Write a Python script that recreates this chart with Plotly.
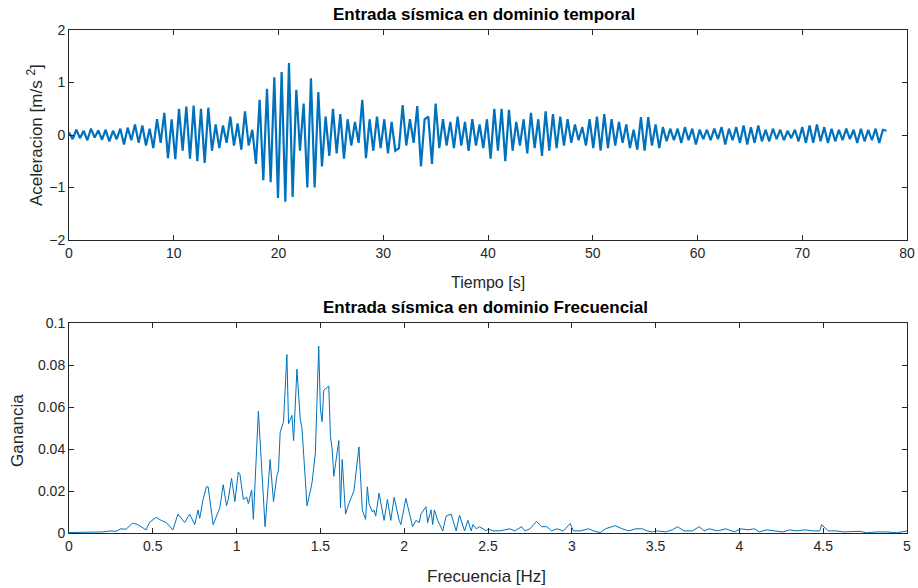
import numpy as np
import plotly.graph_objects as go

# ---------------- Data ----------------
# time-domain record: acceleration sampled every 0.35 s (read from picture)
dt = 0.35
accel = [
    0.05, -0.08, 0.10, -0.06, 0.08, -0.10, 0.12, -0.05, 0.09, -0.09,
    0.10, -0.12, 0.08, -0.08, 0.12, -0.18, 0.14, -0.10, 0.20, -0.15,
    0.18, -0.20, 0.12, -0.25, 0.30, -0.15, 0.42, -0.44, 0.30, -0.46,
    0.50, -0.30, 0.54, -0.45, 0.56, -0.50, 0.50, -0.53, 0.52, -0.30,
    0.20, -0.25, 0.18, -0.15, 0.35, -0.20, 0.22, -0.28, 0.45, -0.20,
    0.10, -0.55, 0.67, -0.86, 0.88, -0.90, 1.10, -1.20, 1.20, -1.27,
    1.37, -1.18, 0.86, -0.30, 0.60, -1.00, 1.08, -1.00, 0.82, -0.60,
    0.35, -0.40, 0.50, -0.35, 0.40, -0.45, 0.30, -0.20, 0.25, -0.15,
    0.67, -0.44, 0.30, -0.30, 0.35, -0.25, 0.30, -0.35, 0.25, -0.30,
    -0.25, 0.57, -0.20, 0.30, -0.15, 0.55, -0.60, 0.30, 0.35, -0.55,
    0.60, -0.25, 0.30, -0.20, 0.25, -0.25, 0.35, -0.20, 0.25, -0.30,
    0.30, -0.20, 0.20, -0.25, 0.30, -0.45, 0.50, -0.30, 0.50, -0.50,
    0.48, -0.30, 0.25, -0.20, 0.30, -0.35, 0.42, -0.25, 0.30, -0.40,
    0.45, -0.30, 0.40, -0.25, 0.35, -0.20, 0.30, -0.15, 0.20, -0.10,
    0.15, -0.20, 0.30, -0.25, 0.35, -0.30, 0.40, -0.25, 0.30, -0.20,
    0.25, -0.15, 0.20, -0.25, 0.10, -0.28, 0.34, -0.30, 0.34, -0.20,
    0.20, -0.25, 0.15, -0.12, 0.12, -0.10, 0.12, -0.15, 0.15, -0.10,
    0.12, -0.18, 0.10, -0.08, 0.10, -0.10, 0.12, -0.08, 0.15, -0.18,
    0.12, -0.10, 0.15, -0.15, 0.18, -0.18, 0.15, -0.15, 0.18, -0.12,
    0.10, -0.12, 0.12, -0.08, 0.10, -0.10, 0.08, -0.06, 0.10, -0.12,
    0.15, -0.15, 0.18, -0.15, 0.20, -0.12, 0.15, -0.15, 0.12, -0.12,
    0.10, -0.10, 0.12, -0.08, 0.10, -0.15, 0.12, -0.12, 0.10, -0.10,
    0.12, -0.15, 0.10, 0.08,
]
time_s = [round(i * dt, 2) for i in range(len(accel))]

# frequency-domain gain
freq_hz = [
    0.00, 0.10, 0.20, 0.25, 0.28, 0.31, 0.34, 0.38, 0.41, 0.43, 0.46, 0.48,
    0.52, 0.55, 0.58, 0.62, 0.65, 0.69, 0.72, 0.75, 0.77, 0.78, 0.80, 0.82,
    0.83, 0.86, 0.90, 0.92, 0.94, 0.95, 0.97, 0.99, 1.01, 1.02, 1.04, 1.06,
    1.07, 1.09, 1.10, 1.13, 1.15, 1.17, 1.20, 1.22, 1.24, 1.25, 1.26, 1.28,
    1.30, 1.31, 1.33, 1.34, 1.36, 1.38, 1.39, 1.42, 1.44, 1.45, 1.47, 1.49,
    1.50, 1.51, 1.52, 1.55, 1.56, 1.57, 1.58, 1.61, 1.62, 1.63, 1.65, 1.67,
    1.70, 1.73, 1.75, 1.77, 1.78, 1.79, 1.81, 1.82, 1.83, 1.85, 1.88, 1.90,
    1.92, 1.94, 1.97, 1.98, 2.01, 2.02, 2.05, 2.07, 2.09, 2.10, 2.13, 2.14,
    2.16, 2.17, 2.18, 2.20, 2.23, 2.25, 2.28, 2.31, 2.33, 2.36, 2.38, 2.40,
    2.41, 2.43, 2.45, 2.49, 2.50, 2.53, 2.57, 2.60, 2.63, 2.66, 2.70, 2.72,
    2.75, 2.79, 2.82, 2.85, 2.88, 2.91, 2.95, 2.99, 3.01, 3.05, 3.10, 3.13,
    3.17, 3.20, 3.26, 3.30, 3.34, 3.38, 3.42, 3.45, 3.48, 3.51, 3.54, 3.56,
    3.60, 3.63, 3.67, 3.72, 3.76, 3.79, 3.82, 3.87, 3.92, 3.97, 4.01, 4.05,
    4.09, 4.12, 4.16, 4.20, 4.26, 4.30, 4.34, 4.39, 4.44, 4.48, 4.49, 4.53,
    4.58, 4.62, 4.68, 4.72, 4.76, 4.82, 4.88, 4.94, 5.00,
]
gain = [
    0.0002, 0.0003, 0.0005, 0.0010, 0.0008, 0.0020, 0.0018, 0.0047, 0.0040, 0.0030, 0.0015, 0.0050,
    0.0075, 0.0060, 0.0050, 0.0015, 0.0090, 0.0050, 0.0090, 0.0040, 0.0110, 0.0070, 0.0160, 0.0220,
    0.0220, 0.0040, 0.0120, 0.0230, 0.0130, 0.0160, 0.0260, 0.0150, 0.0290, 0.0280, 0.0160, 0.0170,
    0.0140, 0.0205, 0.0065, 0.0580, 0.0300, 0.0030, 0.0350, 0.0150, 0.0270, 0.0300, 0.0480, 0.0530,
    0.0850, 0.0520, 0.0560, 0.0440, 0.0780, 0.0540, 0.0500, 0.0130, 0.0200, 0.0240, 0.0380, 0.0890,
    0.0590, 0.0530, 0.0680, 0.0700, 0.0460, 0.0400, 0.0270, 0.0440, 0.0120, 0.0350, 0.0090, 0.0140,
    0.0200, 0.0410, 0.0110, 0.0065, 0.0220, 0.0140, 0.0100, 0.0110, 0.0080, 0.0190, 0.0060, 0.0160,
    0.0060, 0.0170, 0.0060, 0.0040, 0.0165, 0.0130, 0.0030, 0.0060, 0.0050, 0.0090, 0.0125, 0.0050,
    0.0110, 0.0040, 0.0110, 0.0060, 0.0010, 0.0080, 0.0090, 0.0010, 0.0085, 0.0010, 0.0060, 0.0010,
    0.0040, 0.0020, 0.0030, 0.0010, 0.0020, 0.0010, 0.0010, 0.0015, 0.0020, 0.0010, 0.0030, 0.0010,
    0.0020, 0.0055, 0.0030, 0.0030, 0.0010, 0.0020, 0.0010, 0.0045, 0.0010, 0.0010, 0.0020, 0.0010,
    0.0002, 0.0020, 0.0035, 0.0020, 0.0010, 0.0020, 0.0020, 0.0010, 0.0005, 0.0010, 0.0005, 0.0005,
    0.0015, 0.0030, 0.0010, 0.0010, 0.0030, 0.0010, 0.0020, 0.0010, 0.0020, 0.0005, 0.0020, 0.0015,
    0.0020, 0.0005, 0.0015, 0.0010, 0.0005, 0.0015, 0.0010, 0.0015, 0.0010, 0.0010, 0.0040, 0.0010,
    0.0010, 0.0005, 0.0005, 0.0008, 0.0001, 0.0005, 0.0005, 0.0001, 0.0010,
]

x_ticks_t = list(range(0, 81, 10))
y_ticks_t = [-2, -1, 0, 1, 2]
x_ticks_f = [0, 0.5, 1, 1.5, 2, 2.5, 3, 3.5, 4, 4.5, 5]
x_ticklabels_f = ["0", "0.5", "1", "1.5", "2", "2.5", "3", "3.5", "4", "4.5", "5"]
y_ticks_f = [0, 0.02, 0.04, 0.06, 0.08, 0.1]
y_ticklabels_f = ["0", "0.02", "0.04", "0.06", "0.08", "0.1"]

# ---------------- Figure ----------------
W, H = 918, 588
LINE = "#0072BD"
AX = "#262626"
FONT = "Liberation Sans"

def px_x(p):
    return p / W

def px_y(p):
    return 1 - p / H

fig = go.Figure()
fig.add_trace(go.Scatter(x=time_s, y=accel, mode="lines",
                         line=dict(color=LINE, width=2.2),
                         xaxis="x", yaxis="y", showlegend=False))
fig.add_trace(go.Scatter(x=freq_hz, y=gain, mode="lines",
                         line=dict(color=LINE, width=1),
                         xaxis="x2", yaxis="y2", showlegend=False))

common = dict(showline=True, linecolor=AX, linewidth=1, mirror="ticks",
              ticks="inside", ticklen=5, tickcolor=AX, showgrid=False,
              zeroline=False, automargin=False,
              tickfont=dict(family=FONT, size=14, color=AX))

xd = [px_x(69), px_x(907)]
fig.update_layout(
    width=W, height=H,
    margin=dict(l=0, r=0, t=0, b=0, autoexpand=False),
    paper_bgcolor="white", plot_bgcolor="white",
    xaxis=dict(domain=xd, range=[0, 80], tickvals=x_ticks_t, anchor="y", **common),
    yaxis=dict(domain=[px_y(240), px_y(30)], range=[-2, 2], tickvals=y_ticks_t,
               anchor="x", **common),
    xaxis2=dict(domain=xd, range=[0, 5], tickvals=x_ticks_f, ticktext=x_ticklabels_f,
                anchor="y2", **common),
    yaxis2=dict(domain=[px_y(533), px_y(323)], range=[0, 0.1], tickvals=y_ticks_f,
                ticktext=y_ticklabels_f, anchor="x2", **common),
)

ann = []
def txt(text, x, y, size=14, bold=False, angle=0):
    if bold:
        text = "<b>" + text + "</b>"
    ann.append(dict(text=text, x=px_x(x), y=px_y(y), xref="paper", yref="paper",
                    showarrow=False, textangle=angle, xanchor="center", yanchor="middle",
                    font=dict(family=FONT, size=size, color="black" if bold else AX)))

txt("Entrada sísmica en dominio temporal", 484, 14, size=17, bold=True)
txt("Entrada sísmica en dominio Frecuencial", 485, 307, size=17, bold=True)
txt("Tiempo [s]", 488, 282, size=16)
txt("Frecuencia [Hz]", 487, 576, size=17)
txt("Aceleracion [m/s <sup>2</sup>]", 35, 135, size=17, angle=-90)
txt("Ganancia", 17, 431, size=17, angle=-90)
fig.update_layout(annotations=ann)

fig.write_html("out.html",
               post_script="document.body.style.margin='0px';document.body.style.overflow='hidden';")
